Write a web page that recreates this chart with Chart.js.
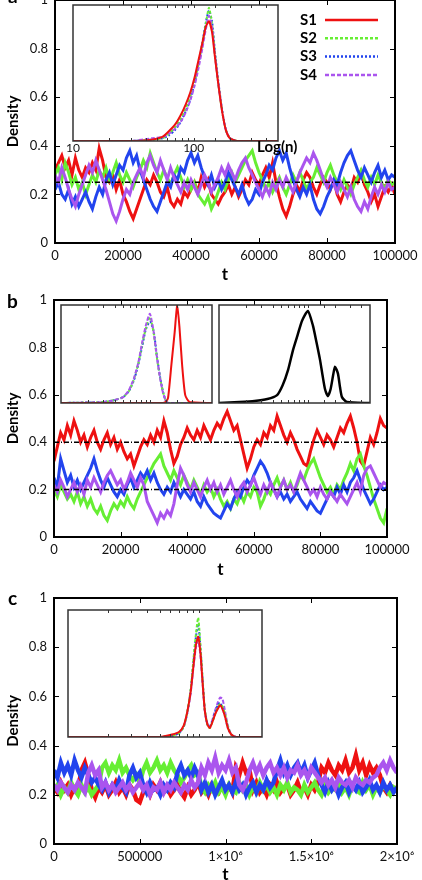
<!DOCTYPE html>
<html>
<head>
<meta charset="utf-8">
<script src="https://cdn.jsdelivr.net/npm/chart.js@4.4.1/dist/chart.umd.min.js"></script>
<style>
  body { margin: 0; background: #fff; }
  #page { position: relative; width: 422px; height: 880px; overflow: hidden; background: #fff; }
  canvas { position: absolute; }
  .tag { position: absolute; font: bold 19px Lato, sans-serif; line-height: 19px; color: #000; }
</style>
</head>
<body>
<div id="page">
  <canvas id="mainA" width="422" height="287" style="left:0;top:0"></canvas>
  <canvas id="mainB" width="422" height="292" style="left:0;top:290px"></canvas>
  <canvas id="mainC" width="422" height="299" style="left:0;top:588px"></canvas>
  <canvas id="insA" width="260" height="165" style="left:60px;top:0"></canvas>
  <canvas id="insB1" width="160" height="106" style="left:55px;top:300px"></canvas>
  <canvas id="insB2" width="163" height="106" style="left:213px;top:300px"></canvas>
  <canvas id="insC" width="206" height="137" style="left:62px;top:604px"></canvas>
  <div class="tag" style="left:8px;top:-14px">a</div>
  <div class="tag" style="left:7px;top:291px">b</div>
  <div class="tag" style="left:8px;top:588px">c</div>
</div>
<script>
// series names / colours
const names = ['S1', 'S2', 'S3', 'S4'];
const colors = ['#ee1111', '#66ee33', '#2244ee', '#aa55ee'];
const dashes = [[], [3, 2], [2, 2], [4, 2]];

// tick labels
const xLabelsAB = ['0', '20000', '40000', '60000', '80000', '100000'];
const xLabelsC = ['0', '500000', '1×10⁶', '1.5×10⁶', '2×10⁶'];
const yLabels = ['0', '0.2', '0.4', '0.6', '0.8', '1'];
const insetLabels = [10, 100];

// time grids (sampling times)
const tA = Array.from({length: 101}, (_, i) => i * 1000);
const tC = Array.from({length: 101}, (_, i) => i * 20000);

// reference levels
const refA = [0.25];
const refB = [0.4, 0.2];

// panel a
const redA = [
0.30,0.33,0.36,0.31,0.34,0.28,0.35,0.30,0.27,0.31,
0.29,0.33,0.30,0.39,0.34,0.27,0.25,0.28,0.22,0.26,
0.20,0.17,0.13,0.10,0.14,0.18,0.22,0.26,0.24,0.28,
0.25,0.21,0.19,0.23,0.17,0.15,0.18,0.16,0.21,0.19,
0.22,0.25,0.21,0.27,0.23,0.26,0.20,0.18,0.16,0.19,
0.21,0.24,0.20,0.23,0.19,0.22,0.26,0.24,0.29,0.26,
0.24,0.28,0.31,0.27,0.33,0.25,0.19,0.14,0.11,0.15,
0.20,0.24,0.21,0.26,0.29,0.27,0.23,0.20,0.24,0.27,
0.25,0.22,0.26,0.20,0.17,0.21,0.24,0.22,0.27,0.25,
0.29,0.24,0.21,0.17,0.20,0.15,0.19,0.23,0.21,0.24,
0.20];
const greenA = [
0.28,0.31,0.26,0.33,0.29,0.24,0.27,0.22,0.25,0.20,
0.24,0.28,0.25,0.30,0.27,0.31,0.26,0.29,0.33,0.28,
0.25,0.29,0.26,0.23,0.27,0.30,0.34,0.31,0.37,0.33,
0.29,0.26,0.30,0.27,0.24,0.28,0.31,0.27,0.23,0.26,
0.22,0.25,0.20,0.18,0.16,0.19,0.14,0.17,0.21,0.25,
0.22,0.26,0.29,0.25,0.28,0.31,0.34,0.36,0.38,0.33,
0.29,0.26,0.22,0.25,0.21,0.24,0.27,0.23,0.20,0.24,
0.28,0.25,0.29,0.26,0.22,0.25,0.27,0.31,0.28,0.25,
0.29,0.32,0.28,0.25,0.22,0.26,0.23,0.20,0.24,0.27,
0.30,0.26,0.23,0.27,0.24,0.28,0.25,0.22,0.26,0.24,
0.25];
const blueA = [
0.22,0.25,0.20,0.18,0.22,0.16,0.19,0.15,0.18,0.21,
0.17,0.14,0.19,0.23,0.20,0.26,0.29,0.24,0.28,0.32,
0.30,0.35,0.38,0.33,0.36,0.30,0.26,0.22,0.18,0.15,
0.13,0.17,0.21,0.25,0.23,0.28,0.26,0.31,0.29,0.34,
0.37,0.33,0.36,0.31,0.27,0.24,0.28,0.23,0.26,0.22,
0.25,0.29,0.26,0.23,0.20,0.24,0.19,0.16,0.18,0.22,
0.20,0.25,0.28,0.32,0.30,0.35,0.38,0.34,0.37,0.31,
0.26,0.22,0.19,0.23,0.20,0.24,0.18,0.14,0.12,0.15,
0.19,0.22,0.26,0.24,0.29,0.33,0.36,0.38,0.34,0.30,
0.27,0.31,0.28,0.25,0.29,0.32,0.27,0.30,0.26,0.28,
0.27];
const purpleA = [
0.28,0.25,0.31,0.27,0.22,0.18,0.15,0.20,0.24,0.28,
0.32,0.29,0.34,0.30,0.26,0.22,0.17,0.12,0.09,0.13,
0.18,0.22,0.20,0.25,0.28,0.31,0.27,0.33,0.36,0.32,
0.29,0.34,0.30,0.26,0.31,0.27,0.24,0.21,0.25,0.22,
0.26,0.23,0.20,0.24,0.28,0.25,0.21,0.24,0.27,0.31,
0.28,0.32,0.29,0.26,0.30,0.33,0.35,0.31,0.28,0.25,
0.22,0.19,0.23,0.20,0.25,0.22,0.26,0.23,0.27,0.24,
0.21,0.25,0.29,0.32,0.35,0.33,0.37,0.34,0.30,0.26,
0.23,0.27,0.24,0.21,0.25,0.22,0.19,0.23,0.18,0.15,
0.13,0.17,0.14,0.19,0.23,0.20,0.24,0.21,0.25,0.22,
0.23];

// panel b
const redB = [
0.32,0.38,0.44,0.41,0.47,0.43,0.49,0.45,0.40,0.43,
0.38,0.42,0.45,0.40,0.37,0.41,0.44,0.39,0.42,0.37,
0.40,0.36,0.33,0.35,0.30,0.34,0.38,0.41,0.39,0.43,
0.40,0.45,0.42,0.49,0.44,0.37,0.31,0.34,0.39,0.42,
0.46,0.43,0.41,0.45,0.42,0.47,0.44,0.41,0.45,0.48,
0.46,0.50,0.53,0.49,0.45,0.47,0.41,0.35,0.29,0.33,
0.38,0.41,0.39,0.44,0.42,0.47,0.45,0.51,0.47,0.43,
0.40,0.44,0.41,0.37,0.34,0.31,0.30,0.36,0.41,0.45,
0.42,0.39,0.43,0.41,0.38,0.42,0.46,0.44,0.48,0.51,
0.46,0.40,0.32,0.30,0.36,0.42,0.39,0.44,0.50,0.47,
0.46];
const greenB = [
0.20,0.17,0.22,0.19,0.16,0.18,0.15,0.19,0.14,0.17,
0.13,0.16,0.12,0.10,0.13,0.09,0.07,0.11,0.14,0.12,
0.15,0.13,0.17,0.14,0.12,0.16,0.19,0.22,0.25,0.28,
0.31,0.33,0.35,0.30,0.27,0.24,0.28,0.25,0.22,0.26,
0.23,0.20,0.24,0.21,0.18,0.22,0.19,0.21,0.17,0.20,
0.16,0.13,0.15,0.12,0.16,0.14,0.18,0.15,0.19,0.17,
0.21,0.19,0.13,0.16,0.20,0.18,0.22,0.25,0.21,0.24,
0.20,0.23,0.19,0.22,0.26,0.24,0.28,0.31,0.33,0.29,
0.25,0.22,0.19,0.21,0.18,0.22,0.20,0.24,0.27,0.31,
0.28,0.33,0.35,0.30,0.26,0.21,0.16,0.12,0.08,0.06,
0.12];
const blueB = [
0.25,0.21,0.33,0.28,0.23,0.26,0.21,0.24,0.20,0.23,
0.26,0.29,0.33,0.28,0.24,0.21,0.25,0.22,0.19,0.17,
0.20,0.18,0.22,0.25,0.21,0.24,0.27,0.25,0.28,0.24,
0.27,0.23,0.20,0.18,0.21,0.19,0.23,0.20,0.17,0.20,
0.18,0.16,0.19,0.15,0.13,0.17,0.14,0.12,0.10,0.09,
0.08,0.11,0.14,0.12,0.16,0.19,0.17,0.21,0.24,0.22,
0.26,0.29,0.32,0.30,0.27,0.23,0.20,0.17,0.19,0.16,
0.18,0.15,0.17,0.19,0.16,0.14,0.12,0.15,0.13,0.11,
0.10,0.13,0.16,0.19,0.17,0.21,0.18,0.22,0.19,0.23,
0.25,0.28,0.24,0.20,0.17,0.14,0.16,0.19,0.22,0.20,
0.21];
const purpleB = [
0.22,0.19,0.24,0.21,0.17,0.20,0.23,0.19,0.22,0.18,
0.24,0.21,0.25,0.22,0.19,0.23,0.26,0.28,0.25,0.22,
0.24,0.20,0.23,0.27,0.24,0.21,0.25,0.22,0.15,0.12,
0.09,0.06,0.10,0.08,0.11,0.09,0.14,0.22,0.29,0.26,
0.22,0.19,0.23,0.20,0.17,0.21,0.24,0.20,0.23,0.19,
0.22,0.18,0.21,0.24,0.20,0.17,0.21,0.23,0.19,0.22,
0.25,0.21,0.18,0.22,0.19,0.23,0.20,0.17,0.21,0.24,
0.20,0.22,0.19,0.23,0.27,0.24,0.21,0.18,0.20,0.17,
0.21,0.18,0.16,0.19,0.17,0.15,0.18,0.16,0.14,0.17,
0.20,0.23,0.19,0.26,0.29,0.30,0.27,0.24,0.21,0.23,
0.22];

// panel c
const redC = [
0.23,0.21,0.25,0.22,0.24,0.20,0.23,0.22,
0.30,0.33,0.28,
0.22,0.19,0.23,0.21,0.24,0.20,0.22,0.25,0.21,0.23,
0.20,0.24,0.22,0.18,0.17,0.21,0.23,0.20,0.24,0.22,
0.25,0.21,0.23,0.20,0.22,0.24,0.21,0.19,0.23,0.20,
0.22,0.25,0.21,0.23,0.20,0.24,0.22,0.21,0.25,0.22,
0.24,0.21,
0.31,0.28,0.33,0.29,0.30,
0.22,0.25,0.21,0.23,0.20,0.24,0.22,0.25,0.21,0.23,
0.24,0.20,0.22,0.25,0.21,0.23,0.20,0.24,0.22,0.25,
0.31,0.29,0.33,0.30,0.28,0.32,0.30,0.34,0.29,0.31,
0.36,0.30,0.33,0.28,0.32,0.29,0.31,0.28,
0.23,0.21,0.24,0.22,0.23];
const greenC = [
0.22,0.24,0.20,0.23,0.21,0.25,0.22,0.20,0.24,0.21,0.23,0.20,0.22,0.24,
0.31,0.33,0.29,0.32,0.30,0.34,0.29,0.31,0.28,
0.26,0.28,0.25,
0.30,0.33,0.29,0.31,0.34,0.30,0.32,0.29,0.33,0.30,0.28,
0.25,0.27,
0.30,0.32,0.28,0.29,
0.23,0.21,0.24,0.22,0.25,0.21,0.23,0.20,0.24,0.22,
0.21,0.25,0.22,0.24,0.20,0.23,0.21,0.25,0.22,0.24,
0.21,0.23,0.20,0.24,0.22,0.25,0.21,0.23,0.22,0.20,
0.24,0.21,0.23,0.25,0.22,0.20,0.24,0.21,0.23,0.22,
0.25,0.21,0.23,0.20,0.24,0.22,0.21,0.25,0.22,0.24,
0.20,0.23,0.21,0.24,0.22,0.20,0.23,0.22];
const blueC = [
0.30,0.27,0.33,0.29,0.32,0.28,0.34,0.30,0.27,0.31,
0.28,0.25,0.27,0.24,
0.22,0.25,0.21,0.24,0.22,0.26,0.23,0.21,
0.28,0.31,0.27,0.29,
0.24,0.21,0.25,0.22,0.23,0.20,0.24,0.22,0.25,0.23,
0.29,0.32,0.28,0.30,0.27,0.31,0.28,
0.22,0.25,0.21,0.24,0.20,0.23,0.26,0.22,0.24,0.21,0.25,
0.22,0.24,0.20,0.23,0.25,0.21,0.24,0.22,0.26,0.23,0.25,
0.30,0.34,0.29,0.32,0.28,0.31,0.33,0.29,0.32,0.27,0.30,0.33,0.28,
0.24,0.21,0.25,0.22,0.24,0.20,0.23,0.25,0.21,0.24,0.22,0.25,
0.21,0.23,0.26,0.22,0.24,0.21,0.25,0.22,0.24,0.21,0.23];
const purpleC = [
0.24,0.22,0.25,0.23,0.21,0.24,0.22,0.25,0.23,0.21,
0.29,0.32,0.28,0.30,
0.23,0.25,0.22,0.24,0.21,0.23,0.25,0.22,0.24,0.21,
0.23,0.25,0.22,0.24,0.20,0.23,0.22,0.25,0.21,0.24,
0.22,0.25,0.23,0.21,0.24,0.22,0.26,0.23,0.25,
0.31,0.28,0.33,0.30,0.35,0.29,0.32,0.30,0.34,0.29,0.31,
0.24,0.22,0.25,
0.30,0.33,0.29,0.32,0.28,0.31,0.33,0.29,0.31,
0.28,0.31,0.27,0.30,0.29,0.32,0.28,0.30,0.27,0.31,0.29,0.27,
0.25,0.27,0.24,0.26,0.23,0.27,0.25,0.24,0.26,0.23,0.27,0.25,0.24,0.26,0.25,0.27,0.28,
0.31,0.33,0.30,0.34,0.31,0.29];

// inset a: size distributions (n on log axis)
const nA = [10, 30, 45, 55, 62, 70, 78, 86, 94, 102, 110, 118, 126, 134, 142, 150, 160, 172, 185, 200, 230, 300, 500];
const redInA =    [0, 0, 0.01, 0.03, 0.07, 0.12, 0.19, 0.27, 0.36, 0.47, 0.60, 0.72, 0.84, 0.88, 0.80, 0.62, 0.42, 0.22, 0.08, 0.02, 0, 0, 0];
const greenInA =  [0, 0, 0.01, 0.02, 0.05, 0.10, 0.16, 0.24, 0.33, 0.44, 0.57, 0.71, 0.86, 0.98, 0.86, 0.64, 0.42, 0.22, 0.08, 0.02, 0, 0, 0];
const blueInA =   [0, 0, 0.01, 0.02, 0.04, 0.08, 0.14, 0.22, 0.31, 0.43, 0.57, 0.72, 0.87, 0.96, 0.88, 0.66, 0.44, 0.23, 0.08, 0.02, 0, 0, 0];
const purpleInA = [0, 0, 0.02, 0.03, 0.05, 0.09, 0.14, 0.21, 0.30, 0.41, 0.54, 0.68, 0.82, 0.92, 0.84, 0.63, 0.42, 0.22, 0.08, 0.02, 0, 0, 0];

// inset b1
const nB1 = [10, 30, 40, 50, 58, 66, 74, 82, 90, 100, 110, 120, 130, 140, 150, 160, 175, 190, 203, 215, 230, 250, 280, 500];
const redInB1 =    [0, 0, 0, 0, 0, 0, 0, 0, 0, 0, 0, 0, 0, 0, 0.01, 0.05, 0.40, 0.72, 1.0, 0.78, 0.40, 0.08, 0.01, 0];
const greenInB1 =  [0, 0.01, 0.03, 0.06, 0.12, 0.24, 0.40, 0.60, 0.76, 0.88, 0.72, 0.46, 0.26, 0.12, 0.03, 0, 0, 0, 0, 0, 0, 0, 0, 0];
const blueInB1 =   [0, 0.01, 0.03, 0.06, 0.12, 0.23, 0.39, 0.58, 0.75, 0.83, 0.74, 0.48, 0.27, 0.12, 0.03, 0, 0, 0, 0, 0, 0, 0, 0, 0];
const purpleInB1 = [0, 0.01, 0.03, 0.06, 0.13, 0.25, 0.41, 0.62, 0.79, 0.91, 0.73, 0.47, 0.26, 0.11, 0.03, 0, 0, 0, 0, 0, 0, 0, 0, 0];

// inset b2
const nB2 = [10, 17, 25, 35, 45, 52, 60, 68, 77, 86, 100, 114, 125, 137, 147, 156, 168, 180, 192, 202, 218, 230, 242, 275, 500];
const blackInB2 = [0, 0.01, 0.02, 0.04, 0.08, 0.18, 0.34, 0.54, 0.70, 0.84, 0.94, 0.79, 0.62, 0.44, 0.27, 0.14, 0.07, 0.14, 0.28, 0.37, 0.30, 0.16, 0.06, 0.01, 0];

// inset c
const nC = [10, 50, 62, 70, 76, 81, 86, 90, 94, 98, 102, 106, 110, 115, 120, 126, 132, 138, 144, 150, 157, 165, 175, 190, 300];
const redInC =    [0, 0, 0.02, 0.04, 0.09, 0.20, 0.36, 0.55, 0.72, 0.79, 0.66, 0.42, 0.21, 0.10, 0.07, 0.12, 0.18, 0.22, 0.25, 0.22, 0.16, 0.07, 0.02, 0, 0];
const greenInC =  [0, 0, 0.01, 0.03, 0.08, 0.20, 0.38, 0.60, 0.80, 0.94, 0.72, 0.45, 0.22, 0.10, 0.07, 0.12, 0.18, 0.23, 0.26, 0.24, 0.18, 0.08, 0.02, 0, 0];
const blueInC =   [0, 0, 0.01, 0.03, 0.08, 0.19, 0.37, 0.58, 0.78, 0.89, 0.70, 0.44, 0.21, 0.10, 0.08, 0.13, 0.20, 0.25, 0.27, 0.23, 0.16, 0.07, 0.02, 0, 0];
const purpleInC = [0, 0, 0.01, 0.03, 0.08, 0.19, 0.35, 0.54, 0.70, 0.76, 0.64, 0.42, 0.21, 0.11, 0.08, 0.14, 0.21, 0.27, 0.31, 0.30, 0.20, 0.09, 0.02, 0, 0];

const FONT = 'Lato, "Open Sans", sans-serif';

function pts(xs, ys) {
  return ys.map((y, i) => ({x: xs[i], y: y}));
}

// force axis size so the plot box lands where it should
function fixSize(px) {
  return function (s) {
    if (s.isHorizontal()) s.height = px; else s.width = px;
    s.paddingTop = 0; s.paddingBottom = 0; s.paddingLeft = 0; s.paddingRight = 0;
  };
}

// box frame + inward tick marks + optional small texts
const frame = {
  id: 'frame',
  afterDatasetsDraw(chart, args, o) {
    const ctx = chart.ctx, a = chart.chartArea;
    const sx = chart.scales.x, sy = chart.scales.y;
    ctx.save();
    ctx.strokeStyle = o.color;
    ctx.lineWidth = 1;
    ctx.setLineDash([]);
    ctx.beginPath();
    sx.ticks.forEach(t => {
      const p = Math.round(sx.getPixelForValue(t.value)) + 0.5;
      if (p < a.left + 2 || p > a.right - 2) return;
      ctx.moveTo(p, a.bottom); ctx.lineTo(p, a.bottom - o.len);
      ctx.moveTo(p, a.top); ctx.lineTo(p, a.top + o.len);
    });
    if (o.yTicks) {
      sy.ticks.forEach(t => {
        const p = Math.round(sy.getPixelForValue(t.value)) + 0.5;
        if (p < a.top + 2 || p > a.bottom - 2) return;
        ctx.moveTo(a.left, p); ctx.lineTo(a.left + o.len, p);
        ctx.moveTo(a.right, p); ctx.lineTo(a.right - o.len, p);
      });
    }
    ctx.stroke();
    ctx.lineWidth = o.width;
    ctx.strokeRect(a.left, a.top, a.right - a.left, a.bottom - a.top);
    if (o.note) {
      ctx.fillStyle = '#000';
      ctx.font = 'bold 15px ' + FONT;
      ctx.textBaseline = 'middle';
      ctx.textAlign = 'left';
      ctx.fillText(o.note, a.right + o.noteDx, a.bottom + o.noteDy);
    }
    ctx.restore();
  }
};

// line-sample key inside panel a
const keyBox = {
  id: 'keyBox',
  afterDraw(chart, args, o) {
    if (!o.items) return;
    const ctx = chart.ctx;
    ctx.save();
    ctx.font = 'bold 15px ' + FONT;
    ctx.textBaseline = 'middle';
    ctx.textAlign = 'left';
    o.items.forEach((it, i) => {
      const y = o.y + i * o.gap;
      ctx.fillStyle = '#000';
      ctx.fillText(it.label, o.x, y);
      ctx.strokeStyle = it.color;
      ctx.lineWidth = 2.5;
      ctx.setLineDash(it.dash);
      ctx.beginPath();
      ctx.moveTo(o.x + 25, y);
      ctx.lineTo(o.x + 78, y);
      ctx.stroke();
    });
    ctx.restore();
  }
};

function makeMain(id, xs, series, refs, cfg) {
  const datasets = [];
  refs.forEach(r => datasets.push({
    data: [{x: xs[0], y: r}, {x: xs[xs.length - 1], y: r}],
    borderColor: '#000', borderWidth: 1.5, borderDash: [5, 2, 1, 2]
  }));
  // purple drawn on top, red at the bottom
  [3, 2, 1, 0].forEach(k => datasets.push({
    label: names[k], data: pts(xs, series[k]),
    borderColor: colors[k], borderWidth: cfg.lw
  }));
  const key = cfg.key ? {
    x: 300, y: 20, gap: 18.3,
    items: names.map((n, k) => ({label: n, color: colors[k], dash: dashes[k]}))
  } : {};
  return new Chart(document.getElementById(id), {
    type: 'line',
    data: {datasets},
    options: {
      animation: false, responsive: false, devicePixelRatio: 1,
      layout: {padding: cfg.pad},
      elements: {point: {radius: 0}, line: {tension: 0}},
      plugins: {
        legend: {display: false}, tooltip: {enabled: false},
        frame: {color: '#000', width: 2, len: 5, yTicks: true},
        keyBox: key
      },
      scales: {
        x: {
          type: 'linear', min: 0, max: cfg.xMax,
          afterFit: fixSize(cfg.xH),
          grid: {display: false, drawTicks: false}, border: {display: false},
          ticks: {
            stepSize: cfg.xStep, autoSkip: false, maxRotation: 0, padding: 5,
            color: '#111', font: {family: FONT, size: 13},
            callback: (v, i) => cfg.xLabels[i]
          },
          title: {display: true, text: 't', color: '#000',
            font: {family: FONT, size: 17, weight: 'bold'}, padding: {top: 0, bottom: 2}}
        },
        y: {
          min: 0, max: 1,
          afterFit: fixSize(cfg.yW),
          grid: {display: false, drawTicks: false}, border: {display: false},
          ticks: {stepSize: 0.2, padding: 7, color: '#111', font: {family: FONT, size: 13},
            callback: (v, i) => yLabels[i]},
          title: {display: true, text: 'Density', color: '#000',
            font: {family: FONT, size: 15, weight: 'bold'}, padding: {top: 4, bottom: 4}}
        }
      }
    },
    plugins: [frame, keyBox]
  });
}

function makeInset(id, xs, curves, cfg) {
  const datasets = curves.map(c => ({
    data: pts(xs, c.ys), borderColor: c.color, borderWidth: c.w || 2, borderDash: c.dash
  }));
  return new Chart(document.getElementById(id), {
    type: 'line',
    data: {datasets},
    options: {
      animation: false, responsive: false, devicePixelRatio: 1,
      layout: {padding: cfg.pad},
      elements: {point: {radius: 0}, line: {tension: 0.2}},
      plugins: {
        legend: {display: false}, tooltip: {enabled: false},
        frame: {color: '#333', width: 1.5, len: 3, yTicks: false,
          note: cfg.note, noteDx: -21, noteDy: 6}
      },
      scales: {
        x: {
          type: 'logarithmic', min: cfg.xMin, max: cfg.xMax,
          afterFit: fixSize(cfg.xH),
          grid: {display: false, drawTicks: false}, border: {display: false},
          ticks: {
            display: !!cfg.labels, autoSkip: false, maxRotation: 0, padding: 0,
            color: '#111', font: {family: FONT, size: 12},
            callback: v => (insetLabels.includes(v) ? String(v) : '')
          }
        },
        y: {display: false, min: 0, max: 1}
      }
    },
    plugins: [frame]
  });
}

makeMain('mainA', tA, [redA, greenA, blueA, purpleA], refA,
  {pad: {left: 0, right: 27, top: 0, bottom: 0}, xH: 44, yW: 55, lw: 3,
   xMax: 100000, xStep: 20000, xLabels: xLabelsAB, key: true});
makeMain('mainB', tA, [redB, greenB, blueB, purpleB], refB,
  {pad: {left: 0, right: 35, top: 10, bottom: 0}, xH: 45, yW: 54, lw: 3,
   xMax: 100000, xStep: 20000, xLabels: xLabelsAB});
makeMain('mainC', tC, [redC, greenC, blueC, purpleC], [],
  {pad: {left: 0, right: 25, top: 10, bottom: 0}, xH: 43, yW: 54, lw: 4.5,
   xMax: 2000000, xStep: 500000, xLabels: xLabelsC});

const insetStyle = (ys, k) => ({ys, color: colors[k], dash: dashes[k]});

makeInset('insA', nA, [insetStyle(redInA, 0), insetStyle(purpleInA, 3), insetStyle(greenInA, 1), insetStyle(blueInA, 2)],
  {pad: {left: 13, right: 42, top: 5, bottom: 0}, xH: 24, xMin: 10, xMax: 500, labels: true, note: 'Log(n)'});
makeInset('insB1', nB1, [insetStyle(redInB1, 0), insetStyle(purpleInB1, 3), insetStyle(greenInB1, 1), insetStyle(blueInB1, 2)],
  {pad: {left: 6, right: 3, top: 5, bottom: 3}, xH: 0, xMin: 10, xMax: 500});
makeInset('insB2', nB2, [{ys: blackInB2, color: '#000', dash: [], w: 2.5}],
  {pad: {left: 6, right: 6, top: 5, bottom: 3}, xH: 0, xMin: 10, xMax: 500});
makeInset('insC', nC, [insetStyle(redInC, 0), insetStyle(greenInC, 1), insetStyle(blueInC, 2), insetStyle(purpleInC, 3)],
  {pad: {left: 6, right: 6, top: 6, bottom: 4}, xH: 0, xMin: 10, xMax: 300});
</script>
</body>
</html>
